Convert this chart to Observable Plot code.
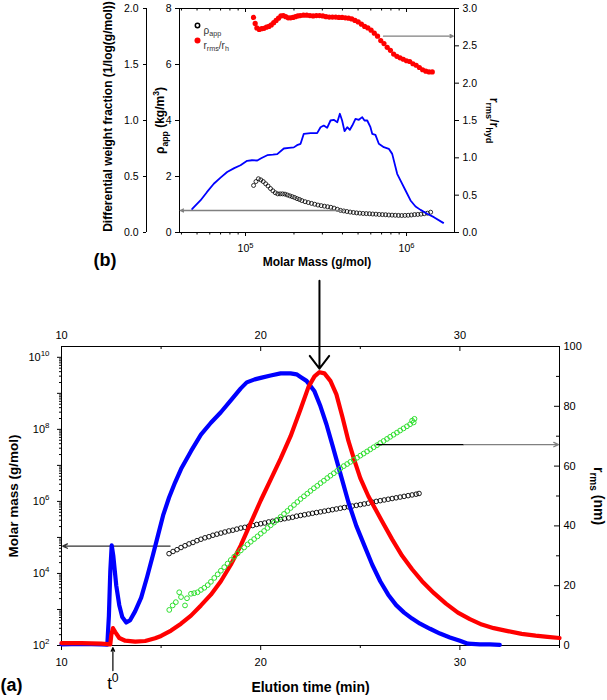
<!DOCTYPE html>
<html><head><meta charset="utf-8">
<script src="https://cdn.jsdelivr.net/npm/d3@7"></script>
<script src="https://cdn.jsdelivr.net/npm/@observablehq/plot@0.6"></script>
<style>
body{margin:0;background:#fff;}
#chart{position:relative;width:607px;height:700px;overflow:hidden;}
</style></head><body><div id="chart"></div>
<script>
// ---------------- DATA: main panel (a) ----------------
// Elution time domain and ticks (min)
const timeDomain = [10, 35];
const timeMajorTicks = [10, 20, 30];
const timeMinorTicks = [15, 25, 35];
// Molar mass axis (log10 domain)
const massLog10Domain = [2, 10.3];
const massDecadeExponents = [2, 3, 4, 5, 6, 7, 8, 9, 10];
// r_rms axis (nm)
const rmsDomain = [0, 100];
const rmsLabelTicks = [0, 20, 40, 60, 80, 100];
const rmsMinorTicks = [10, 30, 50, 70, 90];

// Blue detector trace [time, signal on r_rms scale]
const blueTrace = [[10.0,0.4],[11.0,0.5],[12.0,0.4],[12.3,0.3],[12.38,10],[12.45,25],[12.52,33.5],[12.6,30],[12.75,20],[12.9,13.5],[13.05,9.5],[13.25,7.7],[13.45,8.5],[13.7,11.5],[14.0,16],[14.3,23],[14.6,30.5],[14.85,37],[15.1,43.5],[15.4,49.5],[15.7,54.5],[16.0,59],[16.5,65],[17.0,70.5],[17.5,74.5],[18.0,78],[18.5,82],[19.0,86],[19.3,88],[19.7,89],[20.0,89.5],[20.5,90.3],[21.0,91],[21.5,91],[21.8,90.7],[22.0,89.8],[22.3,88.5],[22.7,85],[23.0,80],[23.3,74],[23.6,67],[24.0,57.5],[24.4,48],[24.8,40],[25.2,33.5],[25.6,27],[26.0,21.5],[26.4,17],[26.8,13.5],[27.2,11],[27.6,9],[28.0,7.3],[28.5,5.6],[29.0,4],[29.5,2.7],[30.0,1.6],[30.4,0.6],[31.0,0.4],[31.5,0.4],[32.0,0.2]];
// Red detector trace [time, signal on r_rms scale]
const redTrace = [[10.0,0.8],[11.0,0.8],[12.0,0.6],[12.45,0.4],[12.5,3.5],[12.58,5.8],[12.7,4.5],[12.9,2.5],[13.2,1.6],[13.7,1.3],[14.2,1.5],[14.7,2.4],[15.0,3.2],[15.5,5],[16.0,7.3],[16.5,10],[17.0,13.4],[17.5,17],[18.0,21.5],[18.5,27],[19.0,33.5],[19.5,41],[20.0,48.5],[20.5,55.5],[21.0,62.5],[21.5,70],[22.0,79],[22.4,86.5],[22.7,90],[22.95,91.4],[23.2,91],[23.5,88.5],[23.8,84],[24.1,76.5],[24.4,68.5],[24.7,62],[25.0,56],[25.4,50],[26.07,41.8],[26.6,35.5],[27.1,30],[27.6,25.5],[28.1,21.5],[28.7,17.5],[29.3,14],[29.9,11],[30.5,8.8],[31.1,7],[31.7,5.8],[32.4,4.8],[33.1,3.9],[33.8,3.3],[34.4,2.9],[35.0,2.5]];
// Green open circles: r_rms (nm) vs time
const greenRms = [[15.41,11.9],[15.58,13.4],[15.74,14.5],[15.91,17.8],[16.0,16.2],[16.2,13.4],[16.3,15.8],[16.5,17.3],[16.66,17.5],[16.83,17.8],[17.0,18.6],[17.17,19.3],[17.34,20.2],[17.5,21.3],[17.67,22.6],[17.84,23.8],[18.0,25],[18.17,26.2],[18.34,27.4],[18.5,28.6],[18.67,29.7],[18.84,30.8],[19.0,31.8],[19.17,32.8],[19.34,33.8],[19.5,34.7],[19.67,35.6],[19.84,36.5],[20.0,37.4],[20.17,38.3],[20.34,39.3],[20.5,40.2],[20.67,41.1],[20.84,42],[21.0,43],[21.17,44],[21.34,45],[21.5,46],[21.67,47],[21.84,48],[22.0,49],[22.17,49.9],[22.34,50.8],[22.5,51.7],[22.67,52.6],[22.84,53.4],[23.0,54.3],[23.17,55.1],[23.34,56],[23.5,56.8],[23.67,57.6],[23.84,58.4],[24.0,59.2],[24.17,60],[24.34,60.7],[24.5,61.4],[24.67,62.1],[24.84,62.8],[25.0,63.5],[25.17,64.2],[25.34,64.9],[25.5,65.6],[25.67,66.3],[25.84,67],[26.0,67.7],[26.17,68.4],[26.34,69.1],[26.5,69.8],[26.67,70.5],[26.84,71.2],[27.0,71.9],[27.17,72.6],[27.34,73.3],[27.5,74],[27.6,75.2],[27.68,74.6],[27.72,75.8]];
// Black open circles: log10 molar mass vs time
const blackMolarMassLog10 = [[15.4,4.55],[15.6,4.61],[15.8,4.66],[16.0,4.72],[16.2,4.77],[16.4,4.82],[16.6,4.86],[16.8,4.91],[17.0,4.95],[17.2,4.99],[17.4,5.02],[17.6,5.06],[17.8,5.09],[18.0,5.12],[18.2,5.15],[18.4,5.18],[18.6,5.2],[18.8,5.23],[19.0,5.26],[19.2,5.28],[19.4,5.31],[19.6,5.33],[19.8,5.36],[20.0,5.38],[20.2,5.4],[20.4,5.43],[20.6,5.45],[20.8,5.48],[21.0,5.5],[21.2,5.52],[21.4,5.54],[21.6,5.56],[21.8,5.59],[22.0,5.61],[22.2,5.63],[22.4,5.65],[22.6,5.67],[22.8,5.69],[23.0,5.71],[23.2,5.73],[23.4,5.75],[23.6,5.77],[23.8,5.79],[24.0,5.81],[24.2,5.83],[24.4,5.85],[24.6,5.87],[24.8,5.89],[25.0,5.91],[25.2,5.93],[25.4,5.95],[25.6,5.98],[25.8,6.0],[26.0,6.02],[26.2,6.04],[26.4,6.06],[26.6,6.08],[26.8,6.1],[27.0,6.12],[27.2,6.14],[27.4,6.16],[27.6,6.18],[27.8,6.2],[27.95,6.22]];
// Annotations (a)
const massArrow = [{tFrom: 15.45, tTo: 10.06, log10M: 4.76}];
const rmsArrowLine = [{tFrom: 25.8, tTo: 30.2, rms: 67.2}];
const rmsArrowHead = [{tFrom: 30.2, tTo: 34.95, rms: 67.2}];
const peakConnector = [{t: 22.95, from: 122, to: 92.6}];
const t0Marker = [{t: 12.58, from: -8.4, to: -0.7, labelAt: -12.8, label: "t^{0}"}];

// ---------------- DATA: inset (b) ----------------
const insetMassLog10Domain = [4.59, 6.298];
const insetMassDecades = [1e5, 1e6];
const insetMassMinor = [4e4,5e4,6e4,7e4,8e4,9e4,2e5,3e5,4e5,5e5,6e5,7e5,8e5,9e5];
const densityDomain = [0, 8];
const densityTicks = [0, 2, 4, 6, 8];
const weightDomain = [0, 2];
const weightTicks = [0, 0.5, 1.0, 1.5, 2.0];
const ratioDomain = [0, 3];
const ratioTicks = [0, 0.5, 1.0, 1.5, 2.0, 2.5, 3.0];
// rho_app (kg/m3) vs log10 M
const rhoApp = [[5.05,1.68],[5.065,1.82],[5.08,1.92],[5.095,1.88],[5.11,1.82],[5.125,1.74],[5.14,1.66],[5.155,1.57],[5.17,1.49],[5.185,1.42],[5.20,1.38],[5.215,1.38],[5.23,1.38],[5.245,1.37],[5.26,1.34],[5.275,1.31],[5.29,1.28],[5.305,1.25],[5.32,1.21],[5.335,1.18],[5.35,1.14],[5.37,1.1],[5.39,1.07],[5.41,1.04],[5.43,1.01],[5.45,0.98],[5.47,0.96],[5.49,0.94],[5.51,0.92],[5.53,0.9],[5.55,0.87],[5.57,0.83],[5.59,0.79],[5.61,0.77],[5.63,0.75],[5.65,0.73],[5.67,0.715],[5.69,0.70],[5.71,0.69],[5.73,0.68],[5.75,0.675],[5.77,0.67],[5.79,0.66],[5.81,0.655],[5.83,0.645],[5.85,0.64],[5.87,0.635],[5.89,0.625],[5.91,0.62],[5.93,0.615],[5.95,0.61],[5.97,0.607],[5.99,0.61],[6.01,0.615],[6.03,0.625],[6.05,0.64],[6.07,0.645],[6.09,0.655],[6.11,0.67],[6.13,0.69],[6.15,0.725]];
// r_rms/r_h vs log10 M
const rmsOverRh = [[5.05,2.88],[5.06,2.80],[5.07,2.74],[5.085,2.72],[5.10,2.73],[5.115,2.735],[5.13,2.75],[5.145,2.76],[5.16,2.78],[5.175,2.81],[5.19,2.84],[5.205,2.87],[5.22,2.9],[5.235,2.905],[5.25,2.89],[5.265,2.875],[5.28,2.875],[5.295,2.88],[5.31,2.89],[5.325,2.9],[5.34,2.905],[5.36,2.91],[5.38,2.91],[5.40,2.905],[5.42,2.9],[5.44,2.905],[5.46,2.905],[5.48,2.9],[5.50,2.89],[5.52,2.885],[5.54,2.885],[5.56,2.885],[5.58,2.88],[5.60,2.88],[5.62,2.875],[5.64,2.87],[5.66,2.86],[5.68,2.84],[5.70,2.82],[5.72,2.79],[5.74,2.76],[5.76,2.74],[5.78,2.71],[5.80,2.67],[5.82,2.63],[5.84,2.57],[5.86,2.53],[5.88,2.48],[5.90,2.44],[5.92,2.39],[5.94,2.36],[5.96,2.34],[5.98,2.32],[6.00,2.30],[6.02,2.29],[6.04,2.26],[6.06,2.24],[6.08,2.21],[6.10,2.18],[6.12,2.16],[6.14,2.15],[6.16,2.15]];
// Differential weight fraction vs log10 M
const weightFraction = [[4.669,0.21],[4.72,0.286],[4.76,0.36],[4.803,0.435],[4.845,0.49],[4.886,0.54],[4.93,0.575],[4.969,0.6],[5.01,0.64],[5.04,0.645],[5.073,0.643],[5.10,0.665],[5.135,0.69],[5.17,0.695],[5.197,0.70],[5.238,0.75],[5.27,0.755],[5.30,0.76],[5.32,0.78],[5.342,0.792],[5.362,0.881],[5.404,0.887],[5.445,0.887],[5.466,0.94],[5.486,0.955],[5.507,0.935],[5.528,1.0],[5.548,1.006],[5.57,0.985],[5.586,1.06],[5.6,1.0],[5.615,0.905],[5.632,0.94],[5.648,0.917],[5.663,0.955],[5.683,1.015],[5.704,1.006],[5.725,1.03],[5.739,1.0],[5.756,1.0],[5.776,0.94],[5.787,0.881],[5.807,0.872],[5.828,0.792],[5.859,0.762],[5.89,0.747],[5.911,0.702],[5.942,0.524],[5.963,0.464],[5.994,0.375],[6.025,0.286],[6.056,0.232],[6.087,0.202],[6.128,0.167],[6.17,0.137],[6.228,0.086]];
// Annotations (b)
const rhoArrow = [{fromLog: 5.609, toLog: 4.595, rho: 0.786}];
const ratioArrow = [{fromLog: 5.857, toLog: 6.29, ratio: 2.63}];
const legendItems = ["ρ_{app}", "r_{rms}/r_{h}"];

// ---------------- RENDER ----------------
const FONT = '"Liberation Sans", Arial, Helvetica, sans-serif';
const style = {background: "none", overflow: "visible", fontFamily: FONT, fontSize: "11px", color: "black"};
const BLUE = "#0000ff", RED = "#ff0000", GREEN = "#2fe02f", GREY = "#808080";
const chart = document.getElementById("chart");
const W = 607;
const sup = d => `10^{${Math.round(Math.log10(d))}}`;

function richify(svg) {
  svg.querySelectorAll("text").forEach(el => {
    const s = el.textContent;
    if (!/[\^_]\{/.test(s)) return;
    const fs = parseFloat(getComputedStyle(el).fontSize) || 11;
    el.textContent = "";
    const re = /([\^_])\{([^}]*)\}/g;
    let last = 0, cur = 0, m;
    const add = (txt, off, small) => {
      if (!txt) return;
      const ts = document.createElementNS("http://www.w3.org/2000/svg", "tspan");
      const d = off - cur;
      if (d) ts.setAttribute("dy", d.toFixed(2));
      if (small) ts.setAttribute("font-size", (fs * 0.72).toFixed(2));
      ts.textContent = txt;
      el.appendChild(ts);
      cur = off;
    };
    while ((m = re.exec(s))) {
      add(s.slice(last, m.index), 0, false);
      add(m[2], m[1] === "^" ? -0.42 * fs : 0.28 * fs, true);
      last = re.lastIndex;
    }
    add(s.slice(last), 0, false);
  });
}
function place(svg, top, left = 0) {
  svg.style.position = "absolute";
  svg.style.top = top + "px";
  svg.style.left = left + "px";
  chart.appendChild(svg);
  richify(svg);
}

// ----- inset (b) geometry -----
const B = {height: 290, marginTop: 8, marginBottom: 58, marginLeft: 179, marginRight: 153};
const bPlotH = B.height - B.marginTop - B.marginBottom;
const bX = {type: "log", domain: insetMassLog10Domain.map(v => 10 ** v), axis: null, label: null};

const b1 = Plot.plot({
  width: W, ...B, style,
  x: bX,
  y: {domain: densityDomain, axis: null, label: null},
  marks: [
    Plot.dot(rhoApp, {x: d => 10 ** d[0], y: d => d[1], r: 2, stroke: "black", strokeWidth: 0.8, fill: "none"}),
    Plot.frame({stroke: "black"}),
    Plot.axisX({ticks: insetMassDecades, anchor: "bottom", tickSize: 4, tickPadding: 8, fontSize: 10.5, tickFormat: sup, label: null}),
    Plot.axisX({ticks: insetMassMinor, anchor: "bottom", tickSize: 2.5, tickFormat: () => "", label: null}),
    Plot.ruleX(insetMassDecades, {insetBottom: bPlotH - 4}),
    Plot.ruleX(insetMassMinor, {insetBottom: bPlotH - 2.5}),
    Plot.axisY({ticks: densityTicks, anchor: "left", tickSize: 4, tickPadding: 4, fontSize: 10.5, label: null}),
    Plot.arrow(rhoArrow, {x1: d => 10 ** d.fromLog, x2: d => 10 ** d.toLog, y1: "rho", y2: "rho", stroke: GREY, strokeWidth: 1.3, headLength: 4, headAngle: 50}),
    Plot.dot(legendItems.slice(0, 1), {frameAnchor: "top-left", dx: 18, dy: 17, r: 2.2, stroke: "black", fill: "none"}),
    Plot.dot(legendItems.slice(1, 2), {frameAnchor: "top-left", dx: 18, dy: 32, r: 3, fill: RED}),
    Plot.text(legendItems.slice(0, 1), {text: d => d, frameAnchor: "top-left", dx: 24, dy: 18, textAnchor: "start", fontSize: 10, fill: "#333"}),
    Plot.text(legendItems.slice(1, 2), {text: d => d, frameAnchor: "top-left", dx: 24, dy: 33, textAnchor: "start", fontSize: 10, fill: "#333"}),
    Plot.text(["ρ_{app} (kg/m^{3})"], {text: d => d, frameAnchor: "left", textAnchor: "middle", dx: -19, rotate: -90, fontSize: 12, fontWeight: "bold", fill: "black"}),
    Plot.text(["Molar Mass (g/mol)"], {text: d => d, frameAnchor: "bottom", dy: 33, fontSize: 12, fontWeight: "bold", fill: "black"}),
    Plot.text(["(b)"], {text: d => d, frameAnchor: "bottom-left", dx: -86, dy: 33, textAnchor: "start", fontSize: 18, fontWeight: "bold", fill: "black"})
  ]
});
place(b1, 0);

const b2 = Plot.plot({
  width: 150, height: B.height, marginTop: B.marginTop, marginBottom: B.marginBottom, marginLeft: 146, marginRight: 2, style,
  x: {domain: [0, 1], axis: null, label: null},
  y: {domain: weightDomain, axis: null, label: null},
  marks: [
    Plot.ruleX([0], {stroke: "black"}),
    Plot.axisY({ticks: weightTicks, anchor: "left", tickSize: 3, tickPadding: 5, fontSize: 10.5, tickFormat: ".1f", label: null}),
    Plot.text(["Differential weight fraction (1/log(g/mol))"], {text: d => d, frameAnchor: "left", textAnchor: "middle", dx: -38, dy: -4, rotate: -90, fontSize: 12, fontWeight: "bold", fill: "black"})
  ]
});
place(b2, 0);

const b3 = Plot.plot({
  width: W, ...B, style,
  x: bX,
  y: {domain: weightDomain, axis: null, label: null},
  marks: [
    Plot.line(weightFraction, {x: d => 10 ** d[0], y: d => d[1], stroke: BLUE, strokeWidth: 1.8})
  ]
});
place(b3, 0);

const b4 = Plot.plot({
  width: W, ...B, style,
  x: bX,
  y: {domain: ratioDomain, axis: null, label: null},
  marks: [
    Plot.dot(rmsOverRh, {x: d => 10 ** d[0], y: d => d[1], r: 2.6, fill: RED}),
    Plot.axisY({ticks: ratioTicks, anchor: "right", tickSize: 4, tickPadding: 4, fontSize: 10.5, tickFormat: ".1f", label: null}),
    Plot.arrow(ratioArrow, {x1: d => 10 ** d.fromLog, x2: d => 10 ** d.toLog, y1: "ratio", y2: "ratio", stroke: GREY, strokeWidth: 1.3, headLength: 4, headAngle: 50}),
    Plot.text(["r_{rms}/r_{hyd}"], {text: d => d, frameAnchor: "right", textAnchor: "middle", dx: 39, rotate: 90, fontSize: 12.5, fontWeight: "bold", fill: "black"})
  ]
});
place(b4, 0);

// ----- main (a) geometry -----
const A = {height: 425, marginTop: 71, marginBottom: 55, marginLeft: 61, marginRight: 48};
const aPlotW = W - A.marginLeft - A.marginRight;
const aPlotH = A.height - A.marginTop - A.marginBottom;
const massDecades = massDecadeExponents.map(p => 10 ** p);
const massMinorTicks = massDecadeExponents.slice(0, -1).flatMap(p => [2,3,4,5,6,7,8,9].map(k => k * 10 ** p));

const a1 = Plot.plot({
  width: W, ...A, style,
  x: {domain: timeDomain, axis: null, label: null},
  y: {type: "log", domain: massLog10Domain.map(v => 10 ** v), axis: null, label: null},
  marks: [
    Plot.dot(blackMolarMassLog10, {x: d => d[0], y: d => 10 ** d[1], r: 2.3, stroke: "black", strokeWidth: 0.9, fill: "none"}),
    Plot.frame({stroke: "black"}),
    Plot.axisX({ticks: timeMajorTicks, anchor: "bottom", tickSize: 5, tickPadding: 8, fontSize: 11, label: null}),
    Plot.axisX({ticks: timeMinorTicks, anchor: "bottom", tickSize: 3, tickFormat: () => "", label: null}),
    Plot.axisX({ticks: timeMajorTicks, anchor: "top", tickSize: 0, tickPadding: 8, fontSize: 11, label: null}),
    Plot.ruleX(timeMajorTicks, {insetBottom: aPlotH - 5}),
    Plot.ruleX(timeMinorTicks, {insetBottom: aPlotH - 3}),
    Plot.axisY({ticks: massDecades, anchor: "left", tickSize: 4, tickPadding: 8, fontSize: 11, label: null,
      tickFormat: d => { const p = Math.round(Math.log10(d)); return p % 2 === 0 ? `10^{${p}}` : ""; }}),
    Plot.axisY({ticks: massMinorTicks, anchor: "left", tickSize: 2, tickFormat: () => "", label: null}),
    Plot.arrow(massArrow, {x1: "tFrom", x2: "tTo", y1: d => 10 ** d.log10M, y2: d => 10 ** d.log10M, stroke: "#333", strokeWidth: 1.3, headLength: 6, headAngle: 50}),
    Plot.text(["Molar mass (g/mol)"], {text: d => d, frameAnchor: "left", textAnchor: "middle", dx: -48, rotate: -90, fontSize: 13.5, fontWeight: "bold", fill: "black"}),
    Plot.text(["Elution time (min)"], {text: d => d, frameAnchor: "bottom", dy: 46, fontSize: 14, fontWeight: "bold", fill: "black"}),
    Plot.text(["(a)"], {text: d => d, frameAnchor: "bottom-left", dx: -61, dy: 45, textAnchor: "start", fontSize: 18, fontWeight: "bold", fill: "black"})
  ]
});
place(a1, 275);

const a2 = Plot.plot({
  width: W, ...A, style,
  x: {domain: timeDomain, axis: null, label: null},
  y: {domain: rmsDomain, axis: null, label: null},
  marks: [
    Plot.line(blueTrace, {x: d => d[0], y: d => d[1], stroke: BLUE, strokeWidth: 4.2}),
    Plot.line(redTrace, {x: d => d[0], y: d => d[1], stroke: RED, strokeWidth: 4.2}),
    Plot.dot(greenRms, {x: d => d[0], y: d => d[1], r: 2.4, stroke: GREEN, strokeWidth: 1, fill: "none"}),
    Plot.axisY({ticks: rmsLabelTicks, anchor: "right", tickSize: 0, tickPadding: 4, fontSize: 11, label: null}),
    Plot.ruleY(rmsLabelTicks, {insetLeft: aPlotW - 5}),
    Plot.ruleY(rmsMinorTicks, {insetLeft: aPlotW - 3}),
    Plot.link(rmsArrowLine, {x1: "tFrom", x2: "tTo", y1: "rms", y2: "rms", stroke: "black", strokeWidth: 1.3}),
    Plot.arrow(rmsArrowHead, {x1: "tFrom", x2: "tTo", y1: "rms", y2: "rms", stroke: GREY, strokeWidth: 1.3, headLength: 6, headAngle: 50}),
    Plot.arrow(peakConnector, {x1: "t", x2: "t", y1: "from", y2: "to", stroke: "black", strokeWidth: 2, headLength: 12, headAngle: 75}),
    Plot.arrow(t0Marker, {x1: "t", x2: "t", y1: "from", y2: "to", stroke: "black", strokeWidth: 1.2, headLength: 5, headAngle: 50}),
    Plot.text(t0Marker, {x: "t", y: "labelAt", text: "label", fontSize: 17, fill: "black"}),
    Plot.text(["r_{rms} (nm)"], {text: d => d, frameAnchor: "right", textAnchor: "middle", dx: 39, rotate: 90, fontSize: 14, fontWeight: "bold", fill: "black"})
  ]
});
place(a2, 275);
</script></body></html>
